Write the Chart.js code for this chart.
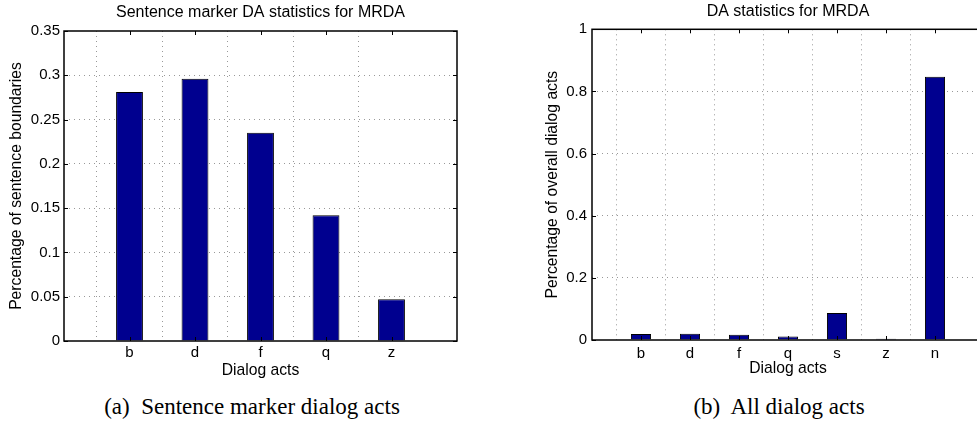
<!DOCTYPE html>
<html><head><meta charset="utf-8">
<script src="https://cdn.jsdelivr.net/npm/chart.js@4.4.0/dist/chart.umd.min.js"></script>
<style>
html,body{margin:0;padding:0;background:#fff;overflow:hidden;}
#page{position:relative;width:977px;height:426px;overflow:hidden;background:#fff;}
.box{position:absolute;top:0;height:380px;}
#boxA{left:0;width:490px;}
#boxB{left:490px;width:500px;}
.cap{position:absolute;top:395px;font-family:'Liberation Serif',serif;font-size:23px;line-height:23px;white-space:pre;color:#000;transform:translateX(-50%);}
</style></head><body>
<div id="page">
<div class="box" id="boxA"><canvas id="cA" width="490" height="380"></canvas></div>
<div class="box" id="boxB"><canvas id="cB" width="500" height="380"></canvas></div>
<div class="cap" style="left:252px">(a)  Sentence marker dialog acts</div>
<div class="cap" style="left:779px">(b)  All dialog acts</div>
</div>
<script>
// ---- data ----
const categoriesA = ['b','d','f','q','z'];
const valuesA = [0.281, 0.296, 0.235, 0.142, 0.047];
const yTicksA = [0, 0.05, 0.1, 0.15, 0.2, 0.25, 0.3, 0.35];
const yTickLabelsA = ['0','0.05','0.1','0.15','0.2','0.25','0.3','0.35'];

const categoriesB = ['b','d','f','q','s','z','n'];
const valuesB = [0.019, 0.020, 0.017, 0.011, 0.087, 0.004, 0.847];
const yTicksB = [0, 0.2, 0.4, 0.6, 0.8, 1];
const yTickLabelsB = ['0','0.2','0.4','0.6','0.8','1'];

// ---- styling ----
const FONT = 'Liberation Sans, Arial, sans-serif';
const BAR = '#00008F';
const GRID = '#999999';
const TITLE_SIZE = 16, LABEL_SIZE = 15.7, TICK_SIZE = 15;

const matlabBox = {
  id: 'matlabBox',
  afterDraw(chart, args, opts) {
    const {ctx, chartArea: a} = chart;
    const xs = chart.scales.x, ys = chart.scales.y;
    const L = 4;
    ctx.save();
    ctx.strokeStyle = '#000';
    ctx.lineWidth = 1;
    ctx.beginPath();
    xs.ticks.forEach(t => {
      if (t.value >= 1 && t.value <= opts.n) {
        const px = Math.round(xs.getPixelForValue(t.value)) + 0.5;
        ctx.moveTo(px, a.bottom); ctx.lineTo(px, a.bottom - L);
        ctx.moveTo(px, a.top); ctx.lineTo(px, a.top + L);
      }
    });
    ys.ticks.forEach(t => {
      const py = Math.round(ys.getPixelForValue(t.value)) + 0.5;
      ctx.moveTo(a.left, py); ctx.lineTo(a.left + L, py);
      ctx.moveTo(a.right, py); ctx.lineTo(a.right - L, py);
    });
    ctx.stroke();
    ctx.lineWidth = 1.5;
    ctx.strokeRect(a.left, a.top, a.right - a.left, a.bottom - a.top);
    ctx.restore();
  }
};

function makeChart(id, cfg) {
  const n = cfg.categories.length;
  return new Chart(document.getElementById(id), {
    type: 'bar',
    data: {
      datasets: [{
        data: cfg.categories.map((c, i) => ({x: i + 1, y: cfg.values[i]})),
        backgroundColor: BAR,
        borderColor: '#000',
        borderWidth: 1,
        barPercentage: 0.41,
        categoryPercentage: 1
      }]
    },
    options: {
      responsive: false,
      animation: false,
      events: [],
      layout: {padding: {left: 0, right: cfg.padRight, top: 0, bottom: 0}},
      plugins: {
        legend: {display: false},
        tooltip: {enabled: false},
        title: {
          display: true, text: cfg.title, color: '#000', fullSize: false,
          font: {family: FONT, size: TITLE_SIZE, weight: 'normal', lineHeight: 1},
          padding: cfg.titlePad
        },
        matlabBox: {n: n}
      },
      scales: {
        x: {
          type: 'linear', min: 0, max: n + 1, offset: false,
          afterBuildTicks: s => { s.ticks = Array.from({length: n + 2}, (_, i) => ({value: i})); },
          afterFit: s => { s.height = cfg.xHeight; },
          ticks: {
            autoSkip: false, maxRotation: 0, color: '#000', padding: cfg.xTickPad,
            font: {family: FONT, size: TICK_SIZE, lineHeight: 1},
            callback: v => cfg.categories[v - 1] || ''
          },
          grid: {
            drawTicks: false, lineWidth: 1,
            color: c => (c.tick && c.tick.value >= 1 && c.tick.value <= n) ? GRID : 'rgba(0,0,0,0)'
          },
          border: {display: false, dash: [1, 4]},
          title: {
            display: true, text: 'Dialog acts', color: '#000',
            font: {family: FONT, size: LABEL_SIZE, lineHeight: 1},
            padding: {top: 0, bottom: cfg.xTitlePad}
          }
        },
        y: {
          type: 'linear', min: cfg.yTicks[0], max: cfg.yTicks[cfg.yTicks.length - 1],
          afterBuildTicks: s => { s.ticks = cfg.yTicks.map(v => ({value: v})); },
          afterFit: s => { s.width = cfg.yWidth; },
          ticks: {
            color: '#000', padding: cfg.yTickPad,
            font: {family: FONT, size: TICK_SIZE, lineHeight: 1},
            callback: (v, i) => cfg.yTickLabels[i]
          },
          grid: {
            drawTicks: false, lineWidth: 1,
            color: c => (c.tick && c.index > 0 && c.index < cfg.yTicks.length - 1) ? GRID : 'rgba(0,0,0,0)'
          },
          border: {display: false, dash: [1, 4]},
          title: {
            display: true, text: cfg.yLabel, color: '#000',
            font: {family: FONT, size: LABEL_SIZE, lineHeight: 1},
            padding: {top: cfg.yTitlePad, bottom: 0}
          }
        }
      }
    },
    plugins: [matlabBox]
  });
}

makeChart('cA', {
  categories: categoriesA, values: valuesA, yTicks: yTicksA, yTickLabels: yTickLabelsA,
  title: 'Sentence marker DA statistics for MRDA',
  yLabel: 'Percentage of sentence boundaries',
  padRight: 33, yWidth: 64, xHeight: 39,
  titlePad: {top: 4.8, bottom: 10.2},
  xTickPad: 4, xTitlePad: 1.5, yTickPad: 4, yTitlePad: 8.6
});

makeChart('cB', {
  categories: categoriesB, values: valuesB, yTicks: yTicksB, yTickLabels: yTickLabelsB,
  title: 'DA statistics for MRDA',
  yLabel: 'Percentage of overall dialog acts',
  padRight: 5, yWidth: 102, xHeight: 40,
  titlePad: {top: 3.8, bottom: 9.5},
  xTickPad: 6, xTitlePad: 3.5, yTickPad: 5, yTitlePad: 54.6
});
</script>
</body></html>
